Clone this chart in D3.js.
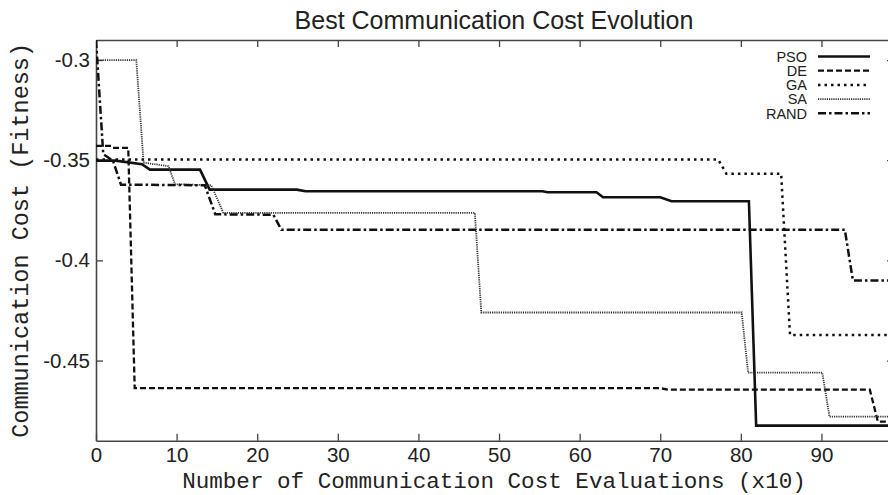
<!DOCTYPE html>
<html lang="en">
  <head>
    <meta charset="UTF-8" />
    <title>Best Communication Cost Evolution</title>
    <style>
      body { margin: 0; background: #fff; }
      svg { display: block; }
    </style>
  </head>
  <body>
    <script src="https://cdn.jsdelivr.net/npm/d3@7"></script>
    <script>
      // series as [x, fitness]
      const psoData = [[0,-0.3502],[2.4,-0.3502],[5.7,-0.352],[6.7,-0.3547],[12.9,-0.3547],[14.1,-0.3647],[24.9,-0.3647],[26,-0.3655],[55.4,-0.3655],[56,-0.366],[62.1,-0.366],[62.9,-0.3685],[70,-0.3685],[71.4,-0.3705],[81,-0.3705],[81.9,-0.4825],[99,-0.4825]];
      const deData = [[0,-0.3428],[1.9,-0.3428],[2.1,-0.3438],[4,-0.3438],[4.8,-0.4638],[70,-0.4638],[71,-0.4645],[96,-0.4645],[97,-0.4805],[99,-0.4805]];
      const gaData = [[0,-0.3497],[77.2,-0.3497],[78.2,-0.3567],[85,-0.3567],[86.1,-0.4372],[99,-0.4372]];
      const saData = [[0,-0.3],[5,-0.3],[5.9,-0.3512],[9,-0.353],[9.8,-0.362],[14.3,-0.3625],[15.8,-0.3763],[47,-0.3763],[47.8,-0.426],[80.1,-0.426],[80.9,-0.456],[90.1,-0.456],[91,-0.478],[99,-0.478]];
      const randData = [[0,-0.29],[0.9,-0.347],[2.1,-0.3502],[3.1,-0.3622],[13.5,-0.3625],[14.8,-0.377],[22,-0.3772],[23,-0.3847],[92.9,-0.3847],[93.9,-0.41],[99,-0.41]];

      const seriesNames = ["PSO", "DE", "GA", "SA", "RAND"];
      const xTicks = [0, 10, 20, 30, 40, 50, 60, 70, 80, 90];
      const yTicks = [-0.45, -0.4, -0.35, -0.3];

      const width = 888, height = 495;
      const plotLeft = 96, plotRight = 894, plotTop = 40, plotBottom = 440.7;

      const styles = {
        PSO:  { dash: null,        w: 2.6, c: "#111" },
        DE:   { dash: "6,3",       w: 2.3, c: "#111" },
        GA:   { dash: "2.5,4",     w: 2.5, c: "#111" },
        SA:   { dash: "1.2,1",     w: 1.8, c: "#333" },
        RAND: { dash: "8,3,2.5,3", w: 2.5, c: "#111" }
      };
      const seriesData = { PSO: psoData, DE: deData, GA: gaData, SA: saData, RAND: randData };

      const svg = d3.select("body").append("svg")
        .attr("width", width)
        .attr("height", height);

      const x = d3.scaleLinear().domain([0, 99]).range([plotLeft, plotRight]);
      const y = d3.scaleLinear().domain([-0.49, -0.29]).range([plotBottom, plotTop]);

      svg.append("clipPath").attr("id", "plot")
        .append("rect")
        .attr("x", plotLeft).attr("y", plotTop - 1)
        .attr("width", plotRight - plotLeft).attr("height", plotBottom - plotTop + 1);

      const axisColor = "#444";
      function styleAxis(g) {
        g.select(".domain").attr("stroke", axisColor).attr("stroke-width", 1.6);
        g.selectAll(".tick line").attr("stroke", axisColor).attr("stroke-width", 1.3);
        g.selectAll("text")
          .attr("fill", "#222")
          .attr("font-family", "'Liberation Sans', Arial, sans-serif")
          .attr("font-size", 20.5);
      }

      svg.append("g")
        .attr("transform", `translate(0,${plotBottom})`)
        .call(d3.axisBottom(x).tickValues(xTicks).tickSize(-7).tickSizeOuter(0).tickPadding(7).tickFormat(d => String(d)))
        .call(styleAxis);

      svg.append("g")
        .attr("transform", `translate(0,${plotTop})`)
        .call(d3.axisTop(x).tickValues(xTicks.slice(1)).tickSize(-7).tickSizeOuter(0).tickFormat(""))
        .call(styleAxis);

      svg.append("g")
        .attr("transform", `translate(${plotLeft},0)`)
        .call(d3.axisLeft(y).tickValues(yTicks).tickSize(-7).tickSizeOuter(0).tickPadding(6).tickFormat(d => String(d)))
        .call(styleAxis);

      svg.append("g")
        .attr("transform", `translate(${plotRight},0)`)
        .call(d3.axisRight(y).tickValues(yTicks).tickSize(-7).tickSizeOuter(0).tickFormat(""))
        .call(styleAxis);

      const line = d3.line().x(d => x(d[0])).y(d => y(d[1]));

      const plot = svg.append("g").attr("clip-path", "url(#plot)");
      seriesNames.forEach(name => {
        const s = styles[name];
        plot.append("path")
          .datum(seriesData[name])
          .attr("d", line)
          .attr("fill", "none")
          .attr("stroke", s.c)
          .attr("stroke-width", s.w)
          .attr("stroke-dasharray", s.dash);
      });

      // legend, top right
      const legend = svg.append("g");
      seriesNames.forEach((name, i) => {
        const s = styles[name];
        const ly = 56.5 + i * 14.2;
        legend.append("text")
          .attr("x", 807).attr("y", ly)
          .attr("dy", "0.36em")
          .attr("text-anchor", "end")
          .attr("font-family", "'Liberation Sans', Arial, sans-serif")
          .attr("font-size", 14.5)
          .attr("fill", "#222")
          .text(name);
        legend.append("line")
          .attr("x1", 818).attr("x2", 870)
          .attr("y1", ly).attr("y2", ly)
          .attr("stroke", s.c)
          .attr("stroke-width", s.w)
          .attr("stroke-dasharray", s.dash);
      });

      svg.append("text")
        .attr("x", 494).attr("y", 29)
        .attr("text-anchor", "middle")
        .attr("font-family", "'Liberation Sans', Arial, sans-serif")
        .attr("font-size", 25)
        .attr("fill", "#222")
        .text("Best Communication Cost Evolution");

      svg.append("text")
        .attr("x", 494).attr("y", 488)
        .attr("text-anchor", "middle")
        .attr("font-family", "'Liberation Mono', 'Courier New', monospace")
        .attr("font-size", 22.6)
        .attr("fill", "#222")
        .text("Number of Communication Cost Evaluations (x10)");

      svg.append("text")
        .attr("transform", `translate(28,${(plotTop + plotBottom) / 2}) rotate(-90)`)
        .attr("text-anchor", "middle")
        .attr("font-family", "'Liberation Mono', 'Courier New', monospace")
        .attr("font-size", 23.5)
        .attr("fill", "#222")
        .text("Communication Cost (Fitness)");
    </script>
  </body>
</html>
